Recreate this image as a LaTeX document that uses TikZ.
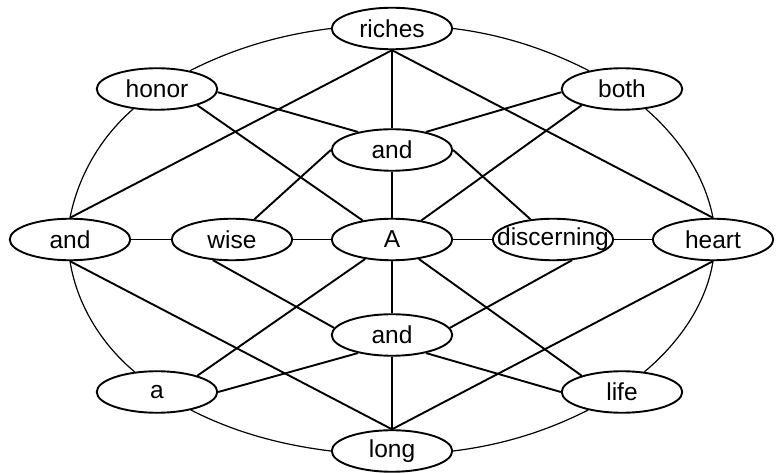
\documentclass[tikz,border=0pt]{standalone}
\usepackage{fontspec}
\newfontfamily\labelfont{Liberation Sans}
\usetikzlibrary{shapes.geometric}
\tikzset{
  word/.style={ellipse, draw, line width=1.9pt, fill=white, inner sep=0pt,
    minimum width=120.5pt, minimum height=41.5pt,
    font=\labelfont\fontsize{24.5}{29}\selectfont},
  link/.style={line width=1.9pt},
  ring/.style={line width=1.2pt, looseness=0.87}
}
\newcommand{\lbl}[1]{\makebox[0pt]{#1}}
\begin{document}
\begin{tikzpicture}[x=1pt,y=1pt]
\useasboundingbox (0,0) rectangle (777,474);
% nodes
\node[word] (riches) at (392,445.5) {\lbl{riches}};
\node[word] (honor)  at (157,385)   {\lbl{honor}};
\node[word] (both)   at (622,385)   {\lbl{both}};
\node[word] (andT)   at (392,324)   {\lbl{and}};
\node[word] (andL)   at (70,234.5)  {\lbl{and}};
\node[word] (wise)   at (232,234.5) {\lbl{wise}};
\node[word] (A)      at (392,234.5) {\lbl{A}};
\node[word] (disc)   at (553,234.5) {\lbl{discerning}};
\node[word] (heart)  at (713,234.5) {\lbl{heart}};
\node[word] (andB)   at (392,139)   {\lbl{and}};
\node[word] (a)      at (157,82)    {\lbl{a}};
\node[word] (life)   at (622,82)    {\lbl{life}};
\node[word] (long)   at (392,23)    {\lbl{long}};
% straight connectors
\draw[link] (riches.south) -- (andL.north);
\draw[link] (riches.south) -- (andT.north);
\draw[link] (riches.south) -- (heart.north);
\draw[link] (honor.-3) -- (andT.152);
\draw[link] (honor.-22) -- (A.147);
\draw[link] (both.183) -- (andT.28);
\draw[link] (both.202) -- (A.33);
\draw[link] (andT.south) -- (A.north);
\draw[link] (andT.west) -- (wise);
\draw[link] (andT.east) -- (disc);
\draw[link] (andL) -- (wise);
\draw[link] (wise) -- (A);
\draw[link] (A) -- (disc);
\draw[link] (disc) -- (heart);
\draw[link] (A.south) -- (andB.north);
\draw[link] (A.216) -- (a.22);
\draw[link] (A.-36) -- (life.158);
\draw[link] (wise.227) -- (andB.173);
\draw[link] (disc.313) -- (andB.7);
\draw[link] (andB.208) -- (a.east);
\draw[link] (andB.-28) -- (life.west);
\draw[link] (andL.south) -- (long.north);
\draw[link] (heart.south) -- (long.north);
\draw[link] (andB.south) -- (long.north);
% outer ring connectors
\draw[ring] (riches.west) to[out=187, in=27] (honor.29);
\draw[ring] (riches.east) to[out=-7, in=153] (both.151);
\draw[ring] (honor.220) to[out=221, in=79] (andL.north);
\draw[ring] (both.320) to[out=-41, in=101] (heart.north);
\draw[ring] (andL.south) to[out=-81, in=140] (a.138);
\draw[ring] (heart.south) to[out=261, in=40] (life.42);
\draw[ring] (a.-28) to[out=-27, in=173] (long.west);
\draw[ring] (life.208) to[out=207, in=7] (long.east);
\end{tikzpicture}
\end{document}
